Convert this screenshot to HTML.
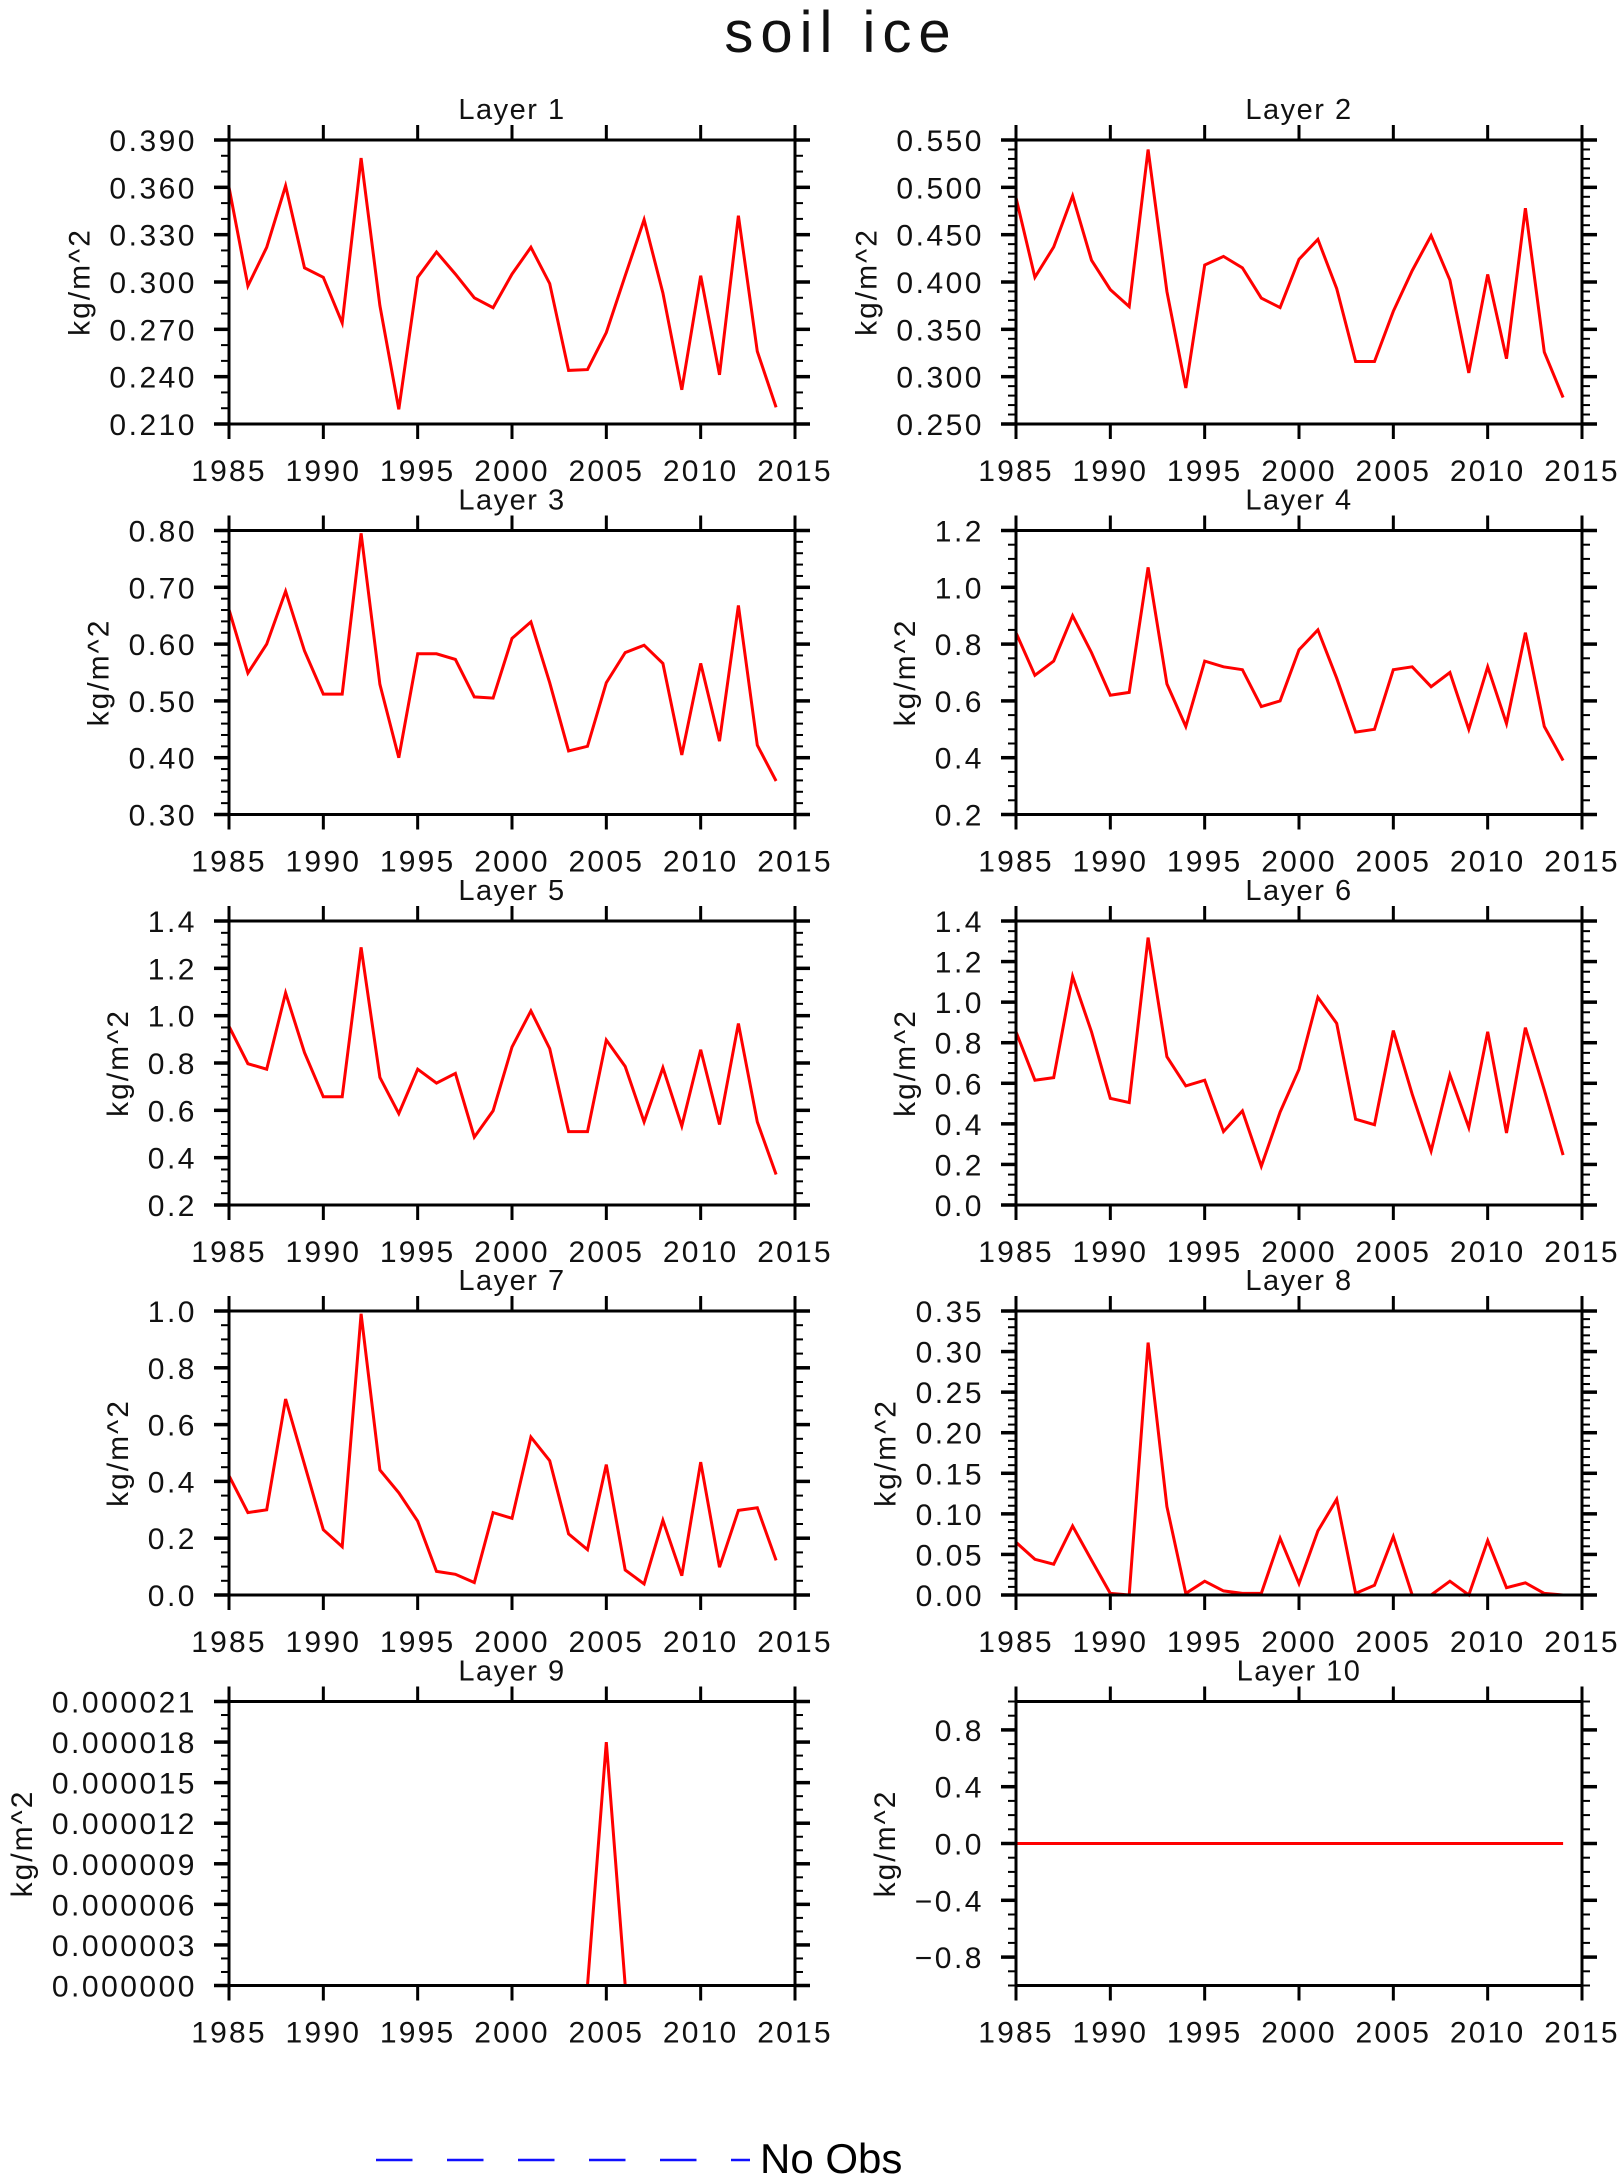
<!DOCTYPE html>
<html><head><meta charset="utf-8"><title>soil ice</title>
<style>
html,body{margin:0;padding:0;background:#fff;}
svg{display:block;font-family:"Liberation Sans",sans-serif;}
</style></head>
<body>
<svg id="chart" width="1621" height="2175" viewBox="0 0 1621 2175" xmlns="http://www.w3.org/2000/svg">
<text x="841" y="52" font-size="58" text-anchor="middle" letter-spacing="7" fill="#111">soil ice</text>
<g>
<line x1="376" y1="2160" x2="750" y2="2160" stroke="#1010ff" stroke-width="2.5" stroke-dasharray="36.5 34.5"/>
<text x="760" y="2173" font-size="42" fill="#000">No Obs</text>
</g>
</svg>
<script>
const years = [1985,1986,1987,1988,1989,1990,1991,1992,1993,1994,1995,1996,1997,1998,1999,2000,2001,2002,2003,2004,2005,2006,2007,2008,2009,2010,2011,2012,2013,2014];
const xTicks = [1985,1990,1995,2000,2005,2010,2015];
const layer1 = [0.360,0.2975,0.322,0.361,0.309,0.303,0.274,0.3785,0.285,0.2193,0.303,0.319,0.305,0.290,0.2837,0.305,0.322,0.299,0.244,0.2445,0.268,0.304,0.3395,0.293,0.2317,0.304,0.2412,0.342,0.256,0.2206];
const layer2 = [0.489,0.405,0.437,0.491,0.423,0.392,0.374,0.540,0.390,0.288,0.418,0.427,0.415,0.383,0.373,0.424,0.445,0.393,0.316,0.316,0.369,0.412,0.449,0.402,0.304,0.408,0.319,0.478,0.326,0.278];
const layer3 = [0.661,0.549,0.600,0.693,0.588,0.512,0.512,0.795,0.529,0.400,0.583,0.583,0.573,0.507,0.505,0.610,0.639,0.532,0.412,0.420,0.532,0.585,0.598,0.566,0.405,0.566,0.429,0.668,0.422,0.359];
const layer4 = [0.84,0.69,0.74,0.90,0.77,0.62,0.63,1.07,0.66,0.51,0.74,0.72,0.71,0.58,0.60,0.78,0.85,0.68,0.49,0.50,0.71,0.72,0.65,0.70,0.50,0.72,0.52,0.84,0.51,0.39];
const layer5 = [0.955,0.797,0.774,1.096,0.844,0.657,0.657,1.289,0.739,0.586,0.774,0.715,0.756,0.487,0.598,0.867,1.020,0.861,0.510,0.510,0.897,0.785,0.551,0.780,0.534,0.856,0.540,0.967,0.551,0.329];
const layer6 = [0.854,0.615,0.628,1.127,0.854,0.526,0.505,1.318,0.731,0.587,0.615,0.362,0.464,0.191,0.458,0.669,1.024,0.895,0.423,0.396,0.860,0.546,0.266,0.642,0.382,0.854,0.355,0.874,0.567,0.246];
const layer7 = [0.42,0.29,0.30,0.69,0.46,0.23,0.17,0.99,0.44,0.36,0.26,0.083,0.073,0.044,0.29,0.27,0.556,0.473,0.215,0.16,0.459,0.088,0.039,0.263,0.068,0.468,0.098,0.298,0.307,0.122];
const layer8 = [0.065,0.044,0.038,0.085,0.043,0.002,0.0,0.311,0.109,0.002,0.017,0.005,0.002,0.002,0.070,0.014,0.079,0.118,0.002,0.012,0.072,0.0,0.0,0.017,0.0,0.067,0.009,0.015,0.002,0.0];
const layer9 = [0,0,0,0,0,0,0,0,0,0,0,0,0,0,0,0,0,0,0,0,0.000018,0,0,0,0,0,0,0,0,0];
const layer10 = [0,0,0,0,0,0,0,0,0,0,0,0,0,0,0,0,0,0,0,0,0,0,0,0,0,0,0,0,0,0];
const ticks1 = [0.210,0.240,0.270,0.300,0.330,0.360,0.390];
const ticks2 = [0.250,0.300,0.350,0.400,0.450,0.500,0.550];
const ticks3 = [0.30,0.40,0.50,0.60,0.70,0.80];
const ticks4 = [0.2,0.4,0.6,0.8,1.0,1.2];
const ticks5 = [0.2,0.4,0.6,0.8,1.0,1.2,1.4];
const ticks6 = [0.0,0.2,0.4,0.6,0.8,1.0,1.2,1.4];
const ticks7 = [0.0,0.2,0.4,0.6,0.8,1.0];
const ticks8 = [0.00,0.05,0.10,0.15,0.20,0.25,0.30,0.35];
const ticks9 = [0,0.000003,0.000006,0.000009,0.000012,0.000015,0.000018,0.000021];
const ticks10 = [-0.8,-0.4,0.0,0.4,0.8];

const NS = "http://www.w3.org/2000/svg";
const svg = document.getElementById('chart');
function mk(tag, attrs, parent){const e=document.createElementNS(NS,tag);for(const k in attrs)e.setAttribute(k,attrs[k]);parent.appendChild(e);return e;}

const panels = [
 {n:1,data:layer1,ymin:0.21,ymax:0.39,ticks:ticks1,minor:0.01,dec:3},
 {n:2,data:layer2,ymin:0.25,ymax:0.55,ticks:ticks2,minor:0.01,dec:3},
 {n:3,data:layer3,ymin:0.3,ymax:0.8,ticks:ticks3,minor:0.02,dec:2},
 {n:4,data:layer4,ymin:0.2,ymax:1.2,ticks:ticks4,minor:0.05,dec:1},
 {n:5,data:layer5,ymin:0.2,ymax:1.4,ticks:ticks5,minor:0.05,dec:1},
 {n:6,data:layer6,ymin:0,ymax:1.4,ticks:ticks6,minor:0.05,dec:1},
 {n:7,data:layer7,ymin:0,ymax:1.0,ticks:ticks7,minor:0.05,dec:1},
 {n:8,data:layer8,ymin:0,ymax:0.35,ticks:ticks8,minor:0.01,dec:2},
 {n:9,data:layer9,ymin:0,ymax:0.000021,ticks:ticks9,minor:0.000001,dec:6},
 {n:10,data:layer10,ymin:-1,ymax:1,ticks:ticks10,minor:0.1,dec:1}
];
const colL=[229,1016], colW=566;
const rowT=[140,530.5,921,1311,1701.5], rowH=284;

panels.forEach((p,i)=>{
  const L=colL[i%2], T=rowT[Math.floor(i/2)], R=L+colW, B=T+rowH;
  const g=mk('g',{},svg);
  
  
  const xs=v=>L+(v-1985)/30*colW;
  const ys=v=>B-(v-p.ymin)/(p.ymax-p.ymin)*rowH;
  const t=mk('text',{x:(L+R)/2,y:T-21,'font-size':29,'text-anchor':'middle','letter-spacing':1.5,fill:'#111'},g);
  t.textContent='Layer '+p.n;
  
  
  const pts=p.data.map((v,k)=>xs(years[k]).toFixed(1)+','+ys(v).toFixed(1)).join(' ');
  const pl=mk('polyline',{points:pts,fill:'none',stroke:'#ff0000','stroke-width':3,'stroke-linejoin':'miter'},g);
  
  
  const fr=mk('rect',{x:L,y:T,width:colW,height:rowH,fill:'none',stroke:'#000','stroke-width':3},g);
  
  
  xTicks.forEach(yr=>{
    const x=xs(yr);
    mk('line',{x1:x,y1:T,x2:x,y2:T-15,stroke:'#000','stroke-width':3},g);
    mk('line',{x1:x,y1:B,x2:x,y2:B+15,stroke:'#000','stroke-width':3},g);
    const tl=mk('text',{x:x,y:B+57,'font-size':30,'text-anchor':'middle','letter-spacing':2.2,fill:'#111'},g);
    tl.textContent=yr;
    
    
  });
  const nMin=Math.round((p.ymax-p.ymin)/p.minor);
  for(let k=0;k<=nMin;k++){
    const y=ys(p.ymin+k*p.minor);
    mk('line',{x1:L,y1:y,x2:L-8,y2:y,stroke:'#000','stroke-width':2},g);
    mk('line',{x1:R,y1:y,x2:R+8,y2:y,stroke:'#000','stroke-width':2},g);
  }
  let maxW=0;
  p.ticks.forEach(v=>{
    const y=ys(v);
    mk('line',{x1:L,y1:y,x2:L-15,y2:y,stroke:'#000','stroke-width':3.5},g);
    mk('line',{x1:R,y1:y,x2:R+15,y2:y,stroke:'#000','stroke-width':3.5},g);
    const tl=mk('text',{x:L-32,y:y+11,'font-size':30,'text-anchor':'end','letter-spacing':2.5,fill:'#111'},g);
    tl.textContent=(v<0?'\u2212':'')+Math.abs(v).toFixed(p.dec);
    
    
    maxW=Math.max(maxW,tl.getComputedTextLength());
  });
  const lx=Math.max(18, L-32-maxW-30), ly=(T+B)/2;
  const yl=mk('text',{x:lx,y:ly,'font-size':30,'text-anchor':'middle','letter-spacing':2,fill:'#111',transform:'rotate(-90 '+lx+' '+ly+')'},g);
  yl.textContent='kg/m^2';
  
  
  yl.setAttribute('dy','10');
});
</script>
</body></html>
